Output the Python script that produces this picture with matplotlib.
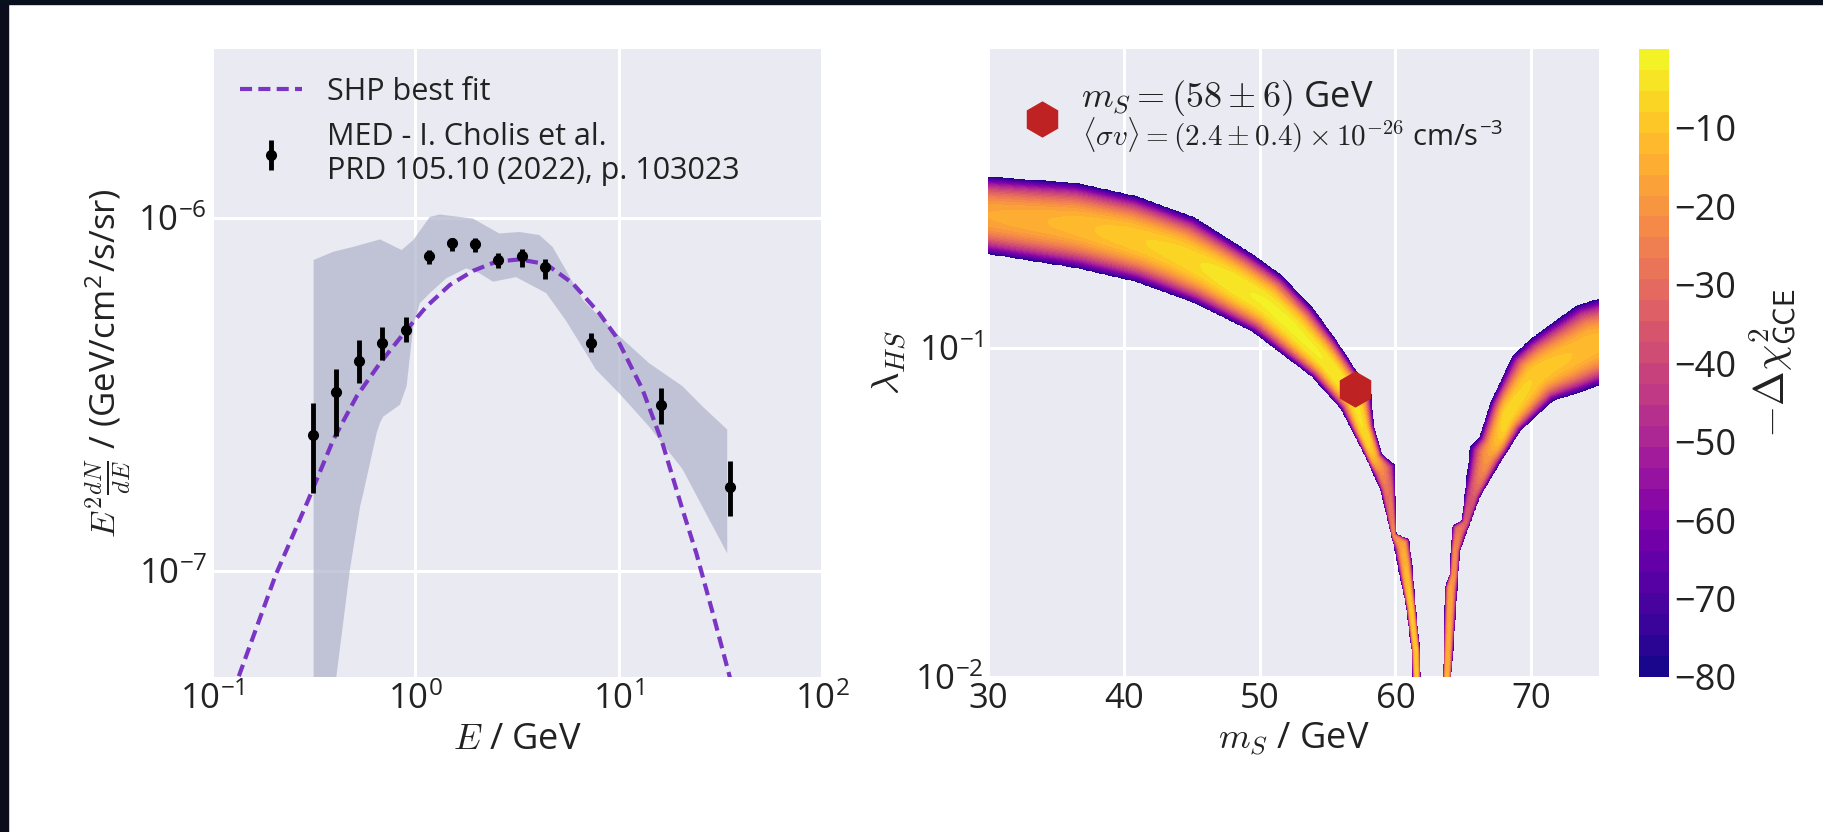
import numpy as np
import matplotlib
matplotlib.use("Agg")
import matplotlib.pyplot as plt
from matplotlib.path import Path
from matplotlib.patches import Rectangle
from matplotlib.lines import Line2D
from matplotlib.ticker import NullFormatter

# --- left panel: GCE spectrum (MED, Cholis et al.) ---
E_data = [0.315, 0.408, 0.531, 0.688, 0.895, 1.165, 1.51, 1.97, 2.56, 3.33, 4.33, 7.31, 16.1, 35.2]
flux = [2.42e-7, 3.21e-7, 3.92e-7, 4.40e-7, 4.79e-7, 7.79e-7, 8.48e-7, 8.41e-7,
        7.58e-7, 7.79e-7, 7.26e-7, 4.40e-7, 2.94e-7, 1.73e-7]
flux_hi = [2.98e-7, 3.73e-7, 4.51e-7, 4.89e-7, 5.22e-7, 8.08e-7, 8.75e-7, 8.73e-7,
           7.91e-7, 8.12e-7, 7.61e-7, 4.72e-7, 3.28e-7, 2.04e-7]
flux_lo = [1.66e-7, 2.40e-7, 3.41e-7, 3.96e-7, 4.44e-7, 7.38e-7, 8.05e-7, 8.00e-7,
           7.18e-7, 7.26e-7, 6.68e-7, 4.15e-7, 2.61e-7, 1.43e-7]

# systematic band (upper and lower edges)
band_up_E = [0.316, 0.395, 0.496, 0.670, 0.856, 0.976, 1.178, 1.319, 1.92, 2.59, 3.25,
             4.07, 4.73, 5.51, 6.65, 9.69, 14.1, 20.6, 25.8, 34.2]
band_up_y = [7.58e-7, 8.0e-7, 8.26e-7, 8.67e-7, 8.09e-7, 8.63e-7, 1.004e-6, 1.02e-6, 9.93e-7,
             9.01e-7, 9.1e-7, 8.92e-7, 8.26e-7, 7.09e-7, 5.85e-7, 4.71e-7, 3.87e-7, 3.33e-7,
             2.92e-7, 2.51e-7]
band_lo_E = [0.316, 0.405, 0.44, 0.477, 0.535, 0.555, 0.645, 0.670, 0.695, 0.84, 0.906, 0.976,
             1.05, 1.18, 1.42, 1.78, 2.07, 2.41, 3.13, 4.40, 5.51, 6.91, 7.73, 10.05, 14.1,
             20.6, 27.8, 34.2]
band_lo_y = [1e-8, 4.8e-8, 7.0e-8, 1.01e-7, 1.52e-7, 1.66e-7, 2.45e-7, 2.62e-7, 2.73e-7, 2.95e-7,
             3.33e-7, 4.91e-7, 5.71e-7, 6.11e-7, 6.73e-7, 7.18e-7, 6.95e-7, 6.58e-7, 6.78e-7,
             6.11e-7, 5.1e-7, 4.13e-7, 3.71e-7, 3.18e-7, 2.56e-7, 1.94e-7, 1.40e-7, 1.12e-7]

# SHP best fit curve
fit_E = [0.12, 0.135, 0.206, 0.298, 0.395, 0.515, 0.670, 0.906, 1.135, 1.476, 1.92, 2.50,
         3.25, 4.40, 5.94, 8.02, 9.69, 13.1, 16.4, 20.6, 24.1, 29.0, 35.2, 38.0]
fit_y = [4.0e-8, 5.0e-8, 9.75e-8, 1.59e-7, 2.35e-7, 3.12e-7, 3.87e-7, 4.81e-7, 5.60e-7, 6.44e-7,
         7.06e-7, 7.50e-7, 7.61e-7, 7.38e-7, 6.51e-7, 5.36e-7, 4.61e-7, 3.26e-7, 2.30e-7,
         1.49e-7, 1.12e-7, 7.6e-8, 5.0e-8, 4.2e-8]

# --- right panel: -Delta chi^2 band in (m_S, lambda_HS) ---
left_A_m = [29.0, 30.0, 36.5, 40.9, 45.2, 49.5, 51.7, 53.9, 55.6, 56.9, 58.2, 58.4, 59.0,
            59.95, 60.05, 61.0, 61.2, 61.45, 61.8, 61.9]
left_A_lam = [0.332, 0.331, 0.317, 0.289, 0.249, 0.192, 0.165, 0.132, 0.106, 0.0878, 0.0729,
              0.058, 0.0475, 0.0441, 0.0272, 0.0262, 0.0225, 0.0170, 0.0120, 0.008]
left_B_m = [29.0, 30.0, 36.5, 40.9, 45.2, 49.5, 53.9, 56.0, 57.8, 58.9, 59.85, 60.3, 60.8,
            61.2, 61.35]
left_B_lam = [0.194, 0.193, 0.175, 0.159, 0.137, 0.112, 0.0815, 0.0652, 0.0467, 0.037, 0.0254,
              0.0205, 0.0163, 0.0120, 0.008]
right_A_m = [63.45, 63.66, 64.0, 64.2, 64.9, 65.5, 66.2, 67.0, 68.6, 69.9, 71.2, 73.4, 75.0, 76.0]
right_A_lam = [0.008, 0.0187, 0.0205, 0.0288, 0.0299, 0.0499, 0.0535, 0.068, 0.094, 0.1057,
               0.116, 0.1346, 0.141, 0.143]
right_B_m = [63.95, 64.75, 66.2, 67.5, 69.2, 71.6, 73.4, 75.0, 76.0]
right_B_lam = [0.008, 0.0242, 0.0352, 0.0434, 0.0561, 0.0692, 0.0729, 0.077, 0.078]

# best value of -Delta chi^2 along the band
peak_m = [30, 35, 40, 45, 48, 52, 56, 58, 59.5, 61, 63.5, 64.5, 65.5, 66.5, 68, 70, 72, 75]
peak_val = [-16, -13, -9, -6, -3, -2, -3, -6, -30, -10, -8, -25, -38, -22, -6, -8, -10, -12]

best_m = [57.0]
best_lam = [0.0752]

chi_ticks = [-80, -70, -60, -50, -40, -30, -20, -10]

plt.rcParams.update({
    "font.family": ["Open Sans", "DejaVu Sans"],
    "mathtext.fontset": "cm",
    "axes.facecolor": "#EAEAF2",
    "axes.grid": True,
    "axes.axisbelow": True,
    "grid.color": "white",
    "grid.linewidth": 2.2,
    "xtick.major.size": 0, "ytick.major.size": 0,
    "xtick.minor.size": 0, "ytick.minor.size": 0,
    "text.color": "#222222", "axes.labelcolor": "#222222",
    "xtick.color": "#222222", "ytick.color": "#222222",
    "xtick.labelsize": 25, "ytick.labelsize": 25,
    "axes.labelsize": 26,
})

fig = plt.figure(figsize=(18.23, 8.32), dpi=100)
# dark screenshot edges
fig.patches.append(Rectangle((0, 0), 8 / 1823, 1, transform=fig.transFigure, color="#0B0C1C", zorder=-5))
fig.patches.append(Rectangle((0, 1 - 3.5 / 832), 1, 3.5 / 832, transform=fig.transFigure, color="#08101E", zorder=-5))

ax1 = fig.add_axes([0.1163, 0.1863, 0.3346, 0.7548])
ax2 = fig.add_axes([0.542, 0.1863, 0.3352, 0.7548])
cax = fig.add_axes([0.899, 0.1863, 0.0165, 0.7548])

for ax in (ax1, ax2):
    for s in ax.spines.values():
        s.set_visible(False)

# ---- left panel ----
ax1.set_xscale("log")
ax1.set_yscale("log")
poly_E = np.r_[band_up_E, band_lo_E[::-1]]
poly_y = np.r_[band_up_y, band_lo_y[::-1]]
ax1.fill(poly_E, poly_y, color="#B2B7CD", alpha=0.75, lw=0, zorder=1)
ax1.plot(fit_E, fit_y, color="#7B35C5", lw=3, dashes=(2.9, 1.5), zorder=3, label="SHP best fit")
yerr = [np.array(flux) - np.array(flux_lo), np.array(flux_hi) - np.array(flux)]
ax1.errorbar(E_data, flux, yerr=yerr, fmt="o", color="k", ms=7, elinewidth=3.5, capsize=0,
             zorder=4, label="MED - I. Cholis et al.\nPRD 105.10 (2022), p. 103023")
ax1.set_xlim(0.1, 100)
ax1.set_ylim(5e-8, 3e-6)
ax1.yaxis.set_minor_formatter(NullFormatter())
ax1.xaxis.set_minor_formatter(NullFormatter())
ax1.set_xlabel(r"$E$ / GeV")
ax1.set_ylabel(r"$E^2\frac{dN}{dE}$ / (GeV/cm$^{\mathregular{2}}$/s/sr)", fontsize=25)
ax1.legend(loc="upper left", frameon=False, fontsize=22, handlelength=2.06, labelspacing=0.5)

# ---- right panel ----
def to_px(m, lam):
    return (np.asarray(m) - 30.0) * 611.0 / 45.0, np.log10(np.asarray(lam)) * 328.5


def edge_dist(px, py, xs, ys):
    d = np.full(px.shape, np.inf)
    for i in range(len(xs) - 1):
        x0, y0 = xs[i], ys[i]
        dx, dy = xs[i + 1] - x0, ys[i + 1] - y0
        t = np.clip(((px - x0) * dx + (py - y0) * dy) / (dx * dx + dy * dy), 0, 1)
        d = np.minimum(d, np.hypot(px - x0 - t * dx, py - y0 - t * dy))
    return d


mg = np.linspace(29.5, 75.5, 900)
lg = np.linspace(-2.1, -0.05, 900)
M, L = np.meshgrid(mg, lg)
LAM = 10 ** L
F = np.full(M.shape, np.nan)
PX, PY = to_px(M, LAM)
pts = np.column_stack([PX.ravel(), PY.ravel()])
for am, al, bm, bl in [(left_A_m, left_A_lam, left_B_m, left_B_lam),
                       (right_A_m, right_A_lam, right_B_m, right_B_lam)]:
    ax_, ay_ = to_px(am, al)
    bx_, by_ = to_px(bm, bl)
    path = Path(np.column_stack([np.r_[ax_, bx_[::-1]], np.r_[ay_, by_[::-1]]]))
    inside = path.contains_points(pts).reshape(M.shape)
    px, py = PX[inside], PY[inside]
    dA = edge_dist(px, py, ax_, ay_)
    dB = edge_dist(px, py, bx_, by_)
    s = 2 * np.minimum(dA, dB) / (dA + dB + 1e-9)
    pk = np.interp(M[inside], peak_m, peak_val)
    F[inside] = pk + (-80 - pk) * (1 - s) ** 2.5

Fm = np.ma.masked_invalid(F)
ax2.set_yscale("log")
cs = ax2.contourf(M, LAM, Fm, levels=np.linspace(-80, 0, 31), cmap="plasma", zorder=1)
ax2.plot(best_m, best_lam, "h", ms=25, color="#BF2222", zorder=5)
ax2.set_xlim(30, 75)
ax2.set_ylim(0.01, 0.81)
ax2.set_xticks([30, 40, 50, 60, 70])
ax2.yaxis.set_minor_formatter(NullFormatter())
ax2.set_xlabel(r"$m_S$ / GeV")
ax2.set_ylabel(r"$\lambda_{HS}$", fontsize=28)
ax2.grid(True)

hexh = Line2D([], [], marker="h", ms=25, color="#BF2222", ls="none")
ax2.legend([hexh], [r"$m_S = (58 \pm 6)$ GeV" + "\n "], loc="upper left", frameon=False,
           fontsize=26, handlelength=1.4, handletextpad=0.36, borderaxespad=0.4, labelspacing=0.3)
ax2.text(0.154, 0.862, r"$\langle\sigma v\rangle = (2.4 \pm 0.4) \times 10^{-26}$ cm/s$^{\mathregular{-3}}$",
         transform=ax2.transAxes, fontsize=21, va="center", ha="left")

cb = fig.colorbar(cs, cax=cax)
cb.outline.set_visible(False)
cb.set_ticks(chi_ticks)
cb.ax.tick_params(size=0, labelsize=26)
cb.set_label(r"$-\Delta\chi^2_{\mathsf{GCE}}$", fontsize=30, labelpad=8)

fig.savefig("out.png", dpi=100, facecolor="white")
